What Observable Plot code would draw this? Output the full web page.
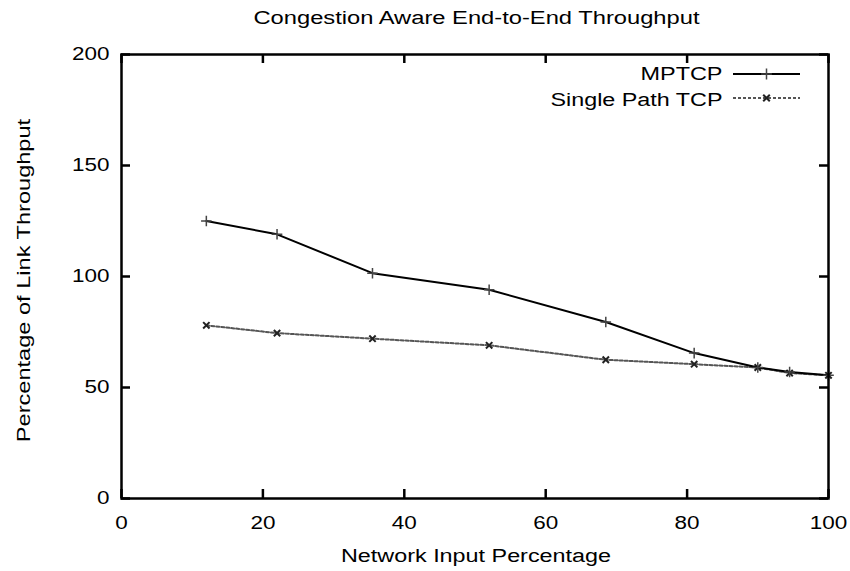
<!DOCTYPE html>
<html>
<head>
<meta charset="utf-8">
<script src="https://cdn.jsdelivr.net/npm/d3@7"></script>
<script src="https://cdn.jsdelivr.net/npm/@observablehq/plot@0.6"></script>
<style>
  html, body { margin: 0; padding: 0; background: #fff; }
  #chart svg { display: block; }
</style>
</head>
<body>
<div id="chart"></div>
<script>
// ---- data ----
const titleText = "Congestion Aware End-to-End Throughput";
const xLabel = "Network Input Percentage";
const yLabel = "Percentage of Link Throughput";
const seriesNames = ["MPTCP", "Single Path TCP"];
const inputPct = [12, 22, 35.5, 52, 68.5, 81, 90, 94.5, 100];
const mptcp = [125, 119, 101.5, 94, 79.5, 65.5, 59, 57, 55.5];
const singlePath = [78, 74.5, 72, 69, 62.5, 60.5, 59, 56.5, 55.5];
const xTicks = [0, 20, 40, 60, 80, 100];
const yTicks = [0, 50, 100, 150, 200];

const mptcpRows = inputPct.map((x, i) => ({x, y: mptcp[i], s: seriesNames[0]}));
const singleRows = inputPct.map((x, i) => ({x, y: singlePath[i], s: seriesNames[1]}));

const W = 850, H = 571;
const mL = 121, mR = 22, mT = 54, mB = 73;
const fw = W - mL - mR, fh = H - mT - mB;
const tl = 9;
const font = "'Liberation Sans', Arial, sans-serif";

const chart = Plot.plot({
  width: W, height: H,
  marginLeft: mL, marginRight: mR, marginTop: mT, marginBottom: mB,
  x: {domain: [0, 100], axis: null},
  y: {domain: [0, 200], axis: null},
  style: {fontFamily: font, fontSize: "18px", color: "black", background: "white"},
  marks: [
    // inward ticks on all four sides
    Plot.tickX(xTicks, {x: d => d, insetTop: fh - tl, stroke: "black", strokeWidth: 2.5}),
    Plot.tickX(xTicks, {x: d => d, insetBottom: fh - tl, stroke: "black", strokeWidth: 2.5}),
    Plot.tickY(yTicks, {y: d => d, insetRight: fw - tl, stroke: "black", strokeWidth: 2.5}),
    Plot.tickY(yTicks, {y: d => d, insetLeft: fw - tl, stroke: "black", strokeWidth: 2.5}),
    // tick labels
    Plot.text(xTicks, {x: d => d, text: d => String(d), frameAnchor: "bottom", dy: 25, lineAnchor: "middle", fill: "black"}),
    Plot.text(yTicks, {y: d => d, text: d => String(d), frameAnchor: "left", dx: -12, textAnchor: "end", lineAnchor: "middle", fill: "black"}),
    // series
    Plot.line(singleRows, {x: "x", y: "y", stroke: "#555", strokeWidth: 2, strokeDasharray: "3,2"}),
    Plot.dot(singleRows, {x: "x", y: "y", symbol: "times", r: 3, stroke: "#222", strokeWidth: 2}),
    Plot.line(mptcpRows, {x: "x", y: "y", stroke: "black", strokeWidth: 2}),
    Plot.dot(mptcpRows, {x: "x", y: "y", symbol: "plus", r: 3.5, stroke: "#444", strokeWidth: 1.5}),
    Plot.frame({stroke: "black", strokeWidth: 2.5}),
    // title and axis labels
    Plot.text([titleText], {text: d => d, frameAnchor: "top", dx: 1.5, dy: -36, lineAnchor: "middle", fill: "black"}),
    Plot.text([xLabel], {text: d => d, frameAnchor: "bottom", dx: 1, dy: 58, lineAnchor: "middle", fill: "black"}),
    Plot.text([yLabel], {text: d => d, frameAnchor: "left", dx: -97, dy: 4, rotate: -90, textAnchor: "middle", lineAnchor: "middle", fill: "black"}),
    // legend labels
    Plot.text([seriesNames[0]], {text: d => d, frameAnchor: "top-right", dx: -106, dy: 20, textAnchor: "end", lineAnchor: "middle", fill: "black"}),
    Plot.text([seriesNames[1]], {text: d => d, frameAnchor: "top-right", dx: -106, dy: 46, textAnchor: "end", lineAnchor: "middle", fill: "black"})
  ]
});

document.getElementById("chart").appendChild(chart);

// stretch text horizontally, like the reference
const lengths = {};
lengths[titleText] = 446;
lengths[xLabel] = 270;
lengths[seriesNames[0]] = 82;
lengths[seriesNames[1]] = 172;
d3.select(chart).selectAll("text").each(function () {
  const t = this.textContent;
  const sel = d3.select(this);
  if (t === yLabel) {
    const tr = sel.attr("transform") || "";
    sel.attr("transform", tr + " scale(1.31,1)");
  } else if (lengths[t] != null) {
    sel.attr("textLength", lengths[t]).attr("lengthAdjust", "spacingAndGlyphs");
  } else if (/^\d+$/.test(t)) {
    sel.attr("textLength", t.length * 12.5).attr("lengthAdjust", "spacingAndGlyphs");
  }
});

// legend swatches (drawn in pixel space, next to the legend labels)
const svg = d3.select(chart);
const lg = svg.append("g");
const lx1 = W - mR - 95, lx2 = W - mR - 28, lxm = (lx1 + lx2) / 2;
const rowsY = [mT + 20, mT + 44];
lg.append("line").attr("x1", lx1).attr("x2", lx2).attr("y1", rowsY[0]).attr("y2", rowsY[0])
  .attr("stroke", "black").attr("stroke-width", 2);
lg.append("path").attr("d", d3.symbol(d3.symbolPlus, 40)()).attr("transform", `translate(${lxm},${rowsY[0]})`)
  .attr("fill", "none").attr("stroke", "#444").attr("stroke-width", 1.5);
lg.append("line").attr("x1", lx1).attr("x2", lx2).attr("y1", rowsY[1]).attr("y2", rowsY[1])
  .attr("stroke", "#555").attr("stroke-width", 2).attr("stroke-dasharray", "3,2");
lg.append("path").attr("d", d3.symbol(d3.symbolTimes, 30)()).attr("transform", `translate(${lxm},${rowsY[1]})`)
  .attr("fill", "none").attr("stroke", "#222").attr("stroke-width", 2);
</script>
</body>
</html>
